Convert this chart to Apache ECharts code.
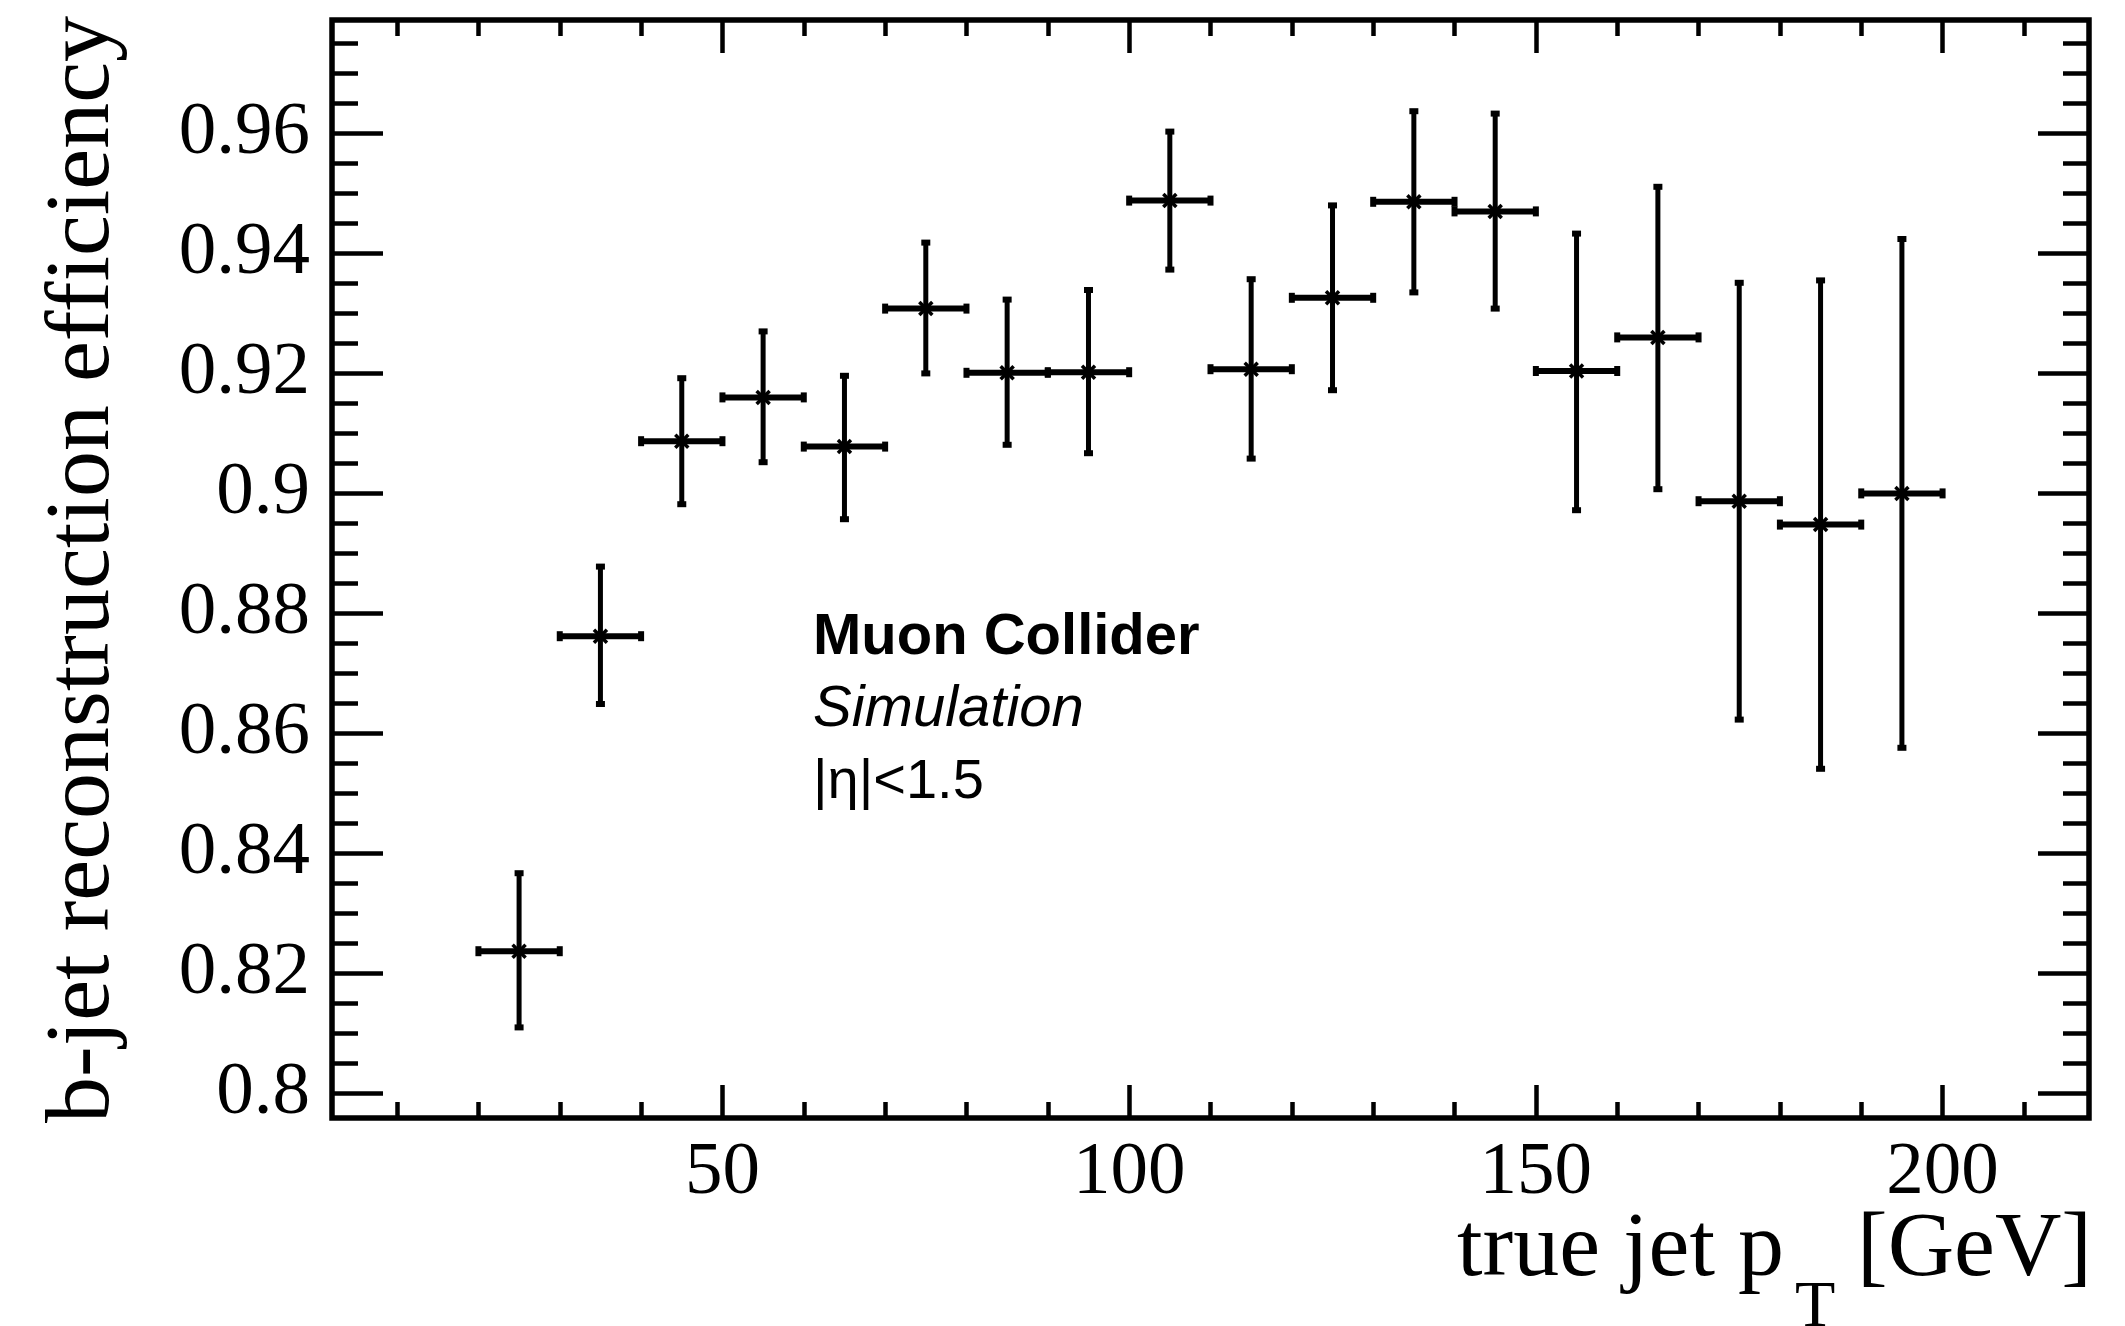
<!DOCTYPE html>
<html><head><meta charset="utf-8">
<script src="https://cdn.jsdelivr.net/npm/echarts@6/dist/echarts.min.js"></script>
<style>html,body{margin:0;padding:0;background:#fff}#c{width:2125px;height:1326px}</style>
</head><body><div id="c"></div>
<script>
// ---- data ----
const binCenters    = [25, 35, 45, 55, 65, 75, 85, 95, 105, 115, 125, 135, 145, 155, 165, 175, 185, 195];
const binHalfWidths = [5, 5, 5, 5, 5, 5, 5, 5, 5, 5, 5, 5, 5, 5, 5, 5, 5, 5];
const efficiency    = [0.8237, 0.8762, 0.9087, 0.9160, 0.9078, 0.9308, 0.9201, 0.9202, 0.9488, 0.9207, 0.9326, 0.9486, 0.9470, 0.9204, 0.9260, 0.8987, 0.8948, 0.9000];
const effUpper      = [0.8367, 0.8878, 0.9192, 0.9270, 0.9196, 0.9418, 0.9323, 0.9339, 0.9603, 0.9357, 0.9480, 0.9637, 0.9633, 0.9433, 0.9511, 0.9351, 0.9355, 0.9424];
const effLower      = [0.8110, 0.8649, 0.8982, 0.9052, 0.8957, 0.9200, 0.9081, 0.9067, 0.9373, 0.9058, 0.9172, 0.9335, 0.9308, 0.8972, 0.9007, 0.8623, 0.8541, 0.8576];

const xMajorTicks = [50, 100, 150, 200];
const xTickLabels = ['50', '100', '150', '200'];
const xMinorTicks = [10, 20, 30, 40, 50, 60, 70, 80, 90, 100, 110, 120, 130, 140, 150, 160, 170, 180, 190, 200, 210];
const yMajorTicks = [0.80, 0.82, 0.84, 0.86, 0.88, 0.90, 0.92, 0.94, 0.96];
const yTickLabels = ['0.8', '0.82', '0.84', '0.86', '0.88', '0.9', '0.92', '0.94', '0.96'];
const yMinorTicks = [0.800, 0.805, 0.810, 0.815, 0.820, 0.825, 0.830, 0.835, 0.840, 0.845, 0.850, 0.855,
                     0.860, 0.865, 0.870, 0.875, 0.880, 0.885, 0.890, 0.895, 0.900, 0.905, 0.910, 0.915,
                     0.920, 0.925, 0.930, 0.935, 0.940, 0.945, 0.950, 0.955, 0.960, 0.965, 0.970, 0.975];

const X_MIN = 2, X_MAX = 218, Y_MIN = 0.7959, Y_MAX = 0.9789;

const seriesData = binCenters.map((c, i) => [c, efficiency[i], effLower[i], effUpper[i], c - binHalfWidths[i], c + binHalfWidths[i]]);

function nearestLabel(v, ticks, labels) {
  let best = 0;
  for (let i = 1; i < ticks.length; i++) if (Math.abs(ticks[i] - v) < Math.abs(ticks[best] - v)) best = i;
  return labels[best];
}

const TICK_W = 4.5;
function xAx(pos, ticks, len, withLabels) {
  return {
    type: 'value', gridIndex: 0, min: X_MIN, max: X_MAX, position: pos,
    axisLine: { show: false }, splitLine: { show: false },
    axisTick: { show: true, inside: true, length: len, customValues: ticks, lineStyle: { color: '#000', width: TICK_W } },
    axisLabel: withLabels ? {
      show: true, customValues: ticks, margin: 18, color: '#000',
      fontFamily: 'Liberation Serif', fontSize: 75,
      formatter: v => nearestLabel(v, xMajorTicks, xTickLabels)
    } : { show: false }
  };
}
function yAx(pos, ticks, len, withLabels) {
  return {
    type: 'value', gridIndex: 0, min: Y_MIN, max: Y_MAX, position: pos,
    axisLine: { show: false }, splitLine: { show: false },
    axisTick: { show: true, inside: true, length: len, customValues: ticks, lineStyle: { color: '#000', width: TICK_W } },
    axisLabel: withLabels ? {
      show: true, customValues: ticks, margin: 22, color: '#000',
      fontFamily: 'Liberation Serif', fontSize: 75,
      formatter: v => nearestLabel(v, yMajorTicks, yTickLabels)
    } : { show: false }
  };
}

const VLW = 5, HLW = 6;
function renderItem(params, api) {
  const x = api.value(0), y = api.value(1), lo = api.value(2), hi = api.value(3), xl = api.value(4), xh = api.value(5);
  const c = api.coord([x, y]);
  const t = api.coord([x, hi]);
  const b = api.coord([x, lo]);
  const l = api.coord([xl, y]);
  const r = api.coord([xh, y]);
  const st = { stroke: '#000', fill: null };
  const k = 6.5;
  return {
    type: 'group',
    children: [
      { type: 'line', shape: { x1: t[0], y1: t[1], x2: b[0], y2: b[1] }, style: Object.assign({ lineWidth: VLW }, st) },
      { type: 'line', shape: { x1: l[0], y1: l[1], x2: r[0], y2: r[1] }, style: Object.assign({ lineWidth: HLW }, st) },
      { type: 'rect', shape: { x: t[0] - 4.5, y: t[1] - 3, width: 9, height: 6 }, style: { fill: '#000' } },
      { type: 'rect', shape: { x: b[0] - 4.5, y: b[1] - 3, width: 9, height: 6 }, style: { fill: '#000' } },
      { type: 'rect', shape: { x: l[0] - 3, y: l[1] - 5, width: 6, height: 10 }, style: { fill: '#000' } },
      { type: 'rect', shape: { x: r[0] - 3, y: r[1] - 5, width: 6, height: 10 }, style: { fill: '#000' } },
      { type: 'line', shape: { x1: c[0] - k, y1: c[1] - k, x2: c[0] + k, y2: c[1] + k }, style: Object.assign({ lineWidth: 3.5 }, st) },
      { type: 'line', shape: { x1: c[0] - k, y1: c[1] + k, x2: c[0] + k, y2: c[1] - k }, style: Object.assign({ lineWidth: 3.5 }, st) }
    ]
  };
}

const chart = echarts.init(document.getElementById('c'), null, { renderer: 'canvas', width: 2125, height: 1326 });
chart.setOption({
  animation: false,
  backgroundColor: '#fff',
  grid: { left: 332, top: 20, right: 36, bottom: 208, show: true, borderColor: '#000', borderWidth: 5.5, backgroundColor: 'transparent' },
  xAxis: [
    xAx('bottom', xMajorTicks, 33, true),
    xAx('bottom', xMinorTicks, 16, false),
    xAx('top', xMajorTicks, 33, false),
    xAx('top', xMinorTicks, 16, false)
  ],
  yAxis: [
    yAx('left', yMajorTicks, 51, true),
    yAx('left', yMinorTicks, 26, false),
    yAx('right', yMajorTicks, 51, false),
    yAx('right', yMinorTicks, 26, false)
  ],
  series: [{
    type: 'custom', xAxisIndex: 0, yAxisIndex: 0, data: seriesData, renderItem: renderItem, clip: false
  }],
  graphic: [
    { type: 'text', x: 813, y: 638, style: { text: 'Muon Collider', font: 'bold 58px "Liberation Sans"', fill: '#000', textAlign: 'left', textVerticalAlign: 'middle' } },
    { type: 'text', x: 813, y: 710, style: { text: 'Simulation', font: 'italic 58px "Liberation Sans"', fill: '#000', textAlign: 'left', textVerticalAlign: 'middle' } },
    { type: 'text', x: 813, y: 783, style: { text: '|η|<1.5', font: '56px "Liberation Sans"', fill: '#000', textAlign: 'left', textVerticalAlign: 'middle' } },
    { type: 'text', x: 1457, y: 1251, style: { text: 'true jet p', font: '92px "Liberation Serif"', fill: '#000', textAlign: 'left', textVerticalAlign: 'middle' } },
    { type: 'text', x: 1795, y: 1309, style: { text: 'T', font: '66px "Liberation Serif"', fill: '#000', textAlign: 'left', textVerticalAlign: 'middle' } },
    { type: 'text', x: 2092, y: 1251, style: { text: '[GeV]', font: '92px "Liberation Serif"', fill: '#000', textAlign: 'right', textVerticalAlign: 'middle' } },
    { type: 'text', x: 84, y: 16, rotation: Math.PI / 2, style: { text: 'b-jet reconstruction efficiency', font: '92px "Liberation Serif"', fill: '#000', textAlign: 'right', textVerticalAlign: 'middle' } }
  ]
});
</script></body></html>
